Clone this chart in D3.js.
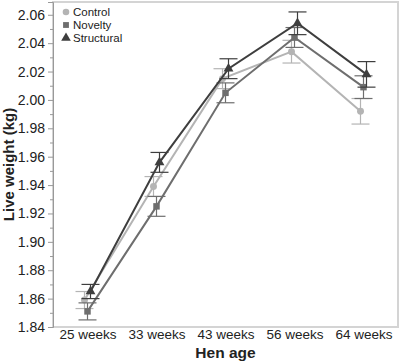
<!DOCTYPE html>
<html>
<head>
<meta charset="utf-8">
<script src="https://cdn.jsdelivr.net/npm/d3@7"></script>
<style>
  body { margin: 0; background: #fff; }
  text { font-family: "Liberation Sans", Arial, sans-serif; fill: #222; }
</style>
</head>
<body>
<div id="chart"></div>
<script>
// Data
const ages = ["25 weeks", "33 weeks", "43 weeks", "56 weeks", "64 weeks"];
const seriesNames = ["Control", "Novelty", "Structural"];
const controlMean = [1.859, 1.939, 2.015, 2.034, 1.992];
const noveltyMean = [1.851, 1.925, 2.005, 2.044, 2.009];
const structuralMean = [1.865, 1.956, 2.022, 2.054, 2.018];
const controlSE = [0.006, 0.007, 0.007, 0.008, 0.009];
const noveltySE = [0.006, 0.007, 0.007, 0.007, 0.008];
const structuralSE = [0.005, 0.007, 0.007, 0.008, 0.009];
const yTicks = [1.84, 1.86, 1.88, 1.90, 1.92, 1.94, 1.96, 1.98, 2.00, 2.02, 2.04, 2.06];

const series = [
    {name: seriesNames[0], mean: controlMean, se: controlSE, color: "#b4b4b4", shape: d3.symbolCircle, size: 38, dx: -3},
    {name: seriesNames[1], mean: noveltyMean, se: noveltySE, color: "#6e6e6e", shape: d3.symbolSquare, size: 42, dx: 0},
    {name: seriesNames[2], mean: structuralMean, se: structuralSE, color: "#3e3e3e", shape: d3.symbolTriangle, size: 42, dx: 3}
];

const width = 400, height = 361;
const plot = {left: 53, right: 398, top: 2, bottom: 327};

const svg = d3.select("#chart").append("svg")
    .attr("width", width)
    .attr("height", height);

const x = d3.scalePoint()
    .domain(ages)
    .range([plot.left, plot.right])
    .padding(0.5);

const y = d3.scaleLinear()
    .domain([1.84, 2.069])
    .range([plot.bottom, plot.top]);

// Plot frame
svg.append("rect")
    .attr("x", plot.left)
    .attr("y", plot.top)
    .attr("width", plot.right - plot.left)
    .attr("height", plot.bottom - plot.top)
    .attr("fill", "none")
    .attr("stroke", "#d4d4d4")
    .attr("stroke-width", 2);

// Y axis with minor ticks
const minorTicks = yTicks.map(v => v + 0.01).filter(v => v < 2.069);
svg.append("g")
    .attr("transform", "translate(" + plot.left + ",0)")
    .call(d3.axisLeft(y).tickValues(minorTicks).tickSize(3).tickFormat(""))
    .call(g => g.select(".domain").remove())
    .call(g => g.selectAll("line").attr("stroke", "#999"));

const yAxis = svg.append("g")
    .attr("transform", "translate(" + plot.left + ",0)")
    .call(d3.axisLeft(y).tickValues(yTicks).tickSize(5).tickPadding(3).tickFormat(d3.format(".2f")));
yAxis.select(".domain").attr("stroke", "#999");
yAxis.selectAll("line").attr("stroke", "#999");
yAxis.selectAll("text")
    .style("font-size", "14px")
    .attr("fill", "#222");

// X axis labels
const xAxis = svg.append("g")
    .attr("transform", "translate(0," + plot.bottom + ")")
    .call(d3.axisBottom(x).tickSize(0).tickPadding(2));
xAxis.select(".domain").remove();
xAxis.selectAll("text")
    .style("font-size", "13.5px")
    .attr("fill", "#222");

// Lines, error bars, markers
const line = d3.line();

series.forEach(function (s) {
    let pts = ages.map((a, i) => ({x: x(a) + s.dx, m: s.mean[i], se: s.se[i]}));

    svg.append("path")
        .datum(pts)
        .attr("fill", "none")
        .attr("stroke", s.color)
        .attr("stroke-width", 2)
        .attr("d", line.x(d => d.x).y(d => y(d.m)));

    let eb = svg.append("g").attr("stroke", s.color).attr("stroke-width", 1.2);
    pts.forEach(function (p) {
        eb.append("line")
            .attr("x1", p.x).attr("x2", p.x)
            .attr("y1", y(p.m - p.se)).attr("y2", y(p.m + p.se));
        [p.m - p.se, p.m + p.se].forEach(function (v) {
            eb.append("line")
                .attr("x1", p.x - 9).attr("x2", p.x + 9)
                .attr("y1", y(v)).attr("y2", y(v));
        });
    });

    svg.selectAll(null)
        .data(pts)
        .enter().append("path")
        .attr("transform", d => "translate(" + d.x + "," + y(d.m) + ")")
        .attr("d", d3.symbol().type(s.shape).size(s.size))
        .attr("fill", s.color);
});

// Legend
const legend = svg.append("g").attr("transform", "translate(66,12)");
series.forEach(function (s, i) {
    legend.append("path")
        .attr("transform", "translate(0," + (i * 13) + ")")
        .attr("d", d3.symbol().type(s.shape).size(s.shape === d3.symbolTriangle ? 40 : 34))
        .attr("fill", s.color);
    legend.append("text")
        .attr("x", 7)
        .attr("y", i * 13 + 4)
        .style("font-size", "11.5px")
        .text(s.name);
});

// Axis titles
svg.append("text")
    .attr("transform", "translate(14," + ((plot.top + plot.bottom) / 2) + ") rotate(-90)")
    .attr("text-anchor", "middle")
    .style("font-size", "15px")
    .style("font-weight", "bold")
    .text("Live weight (kg)");

svg.append("text")
    .attr("x", (plot.left + plot.right) / 2)
    .attr("y", 358)
    .attr("text-anchor", "middle")
    .style("font-size", "15.5px")
    .style("font-weight", "bold")
    .text("Hen age");
</script>
</body>
</html>
